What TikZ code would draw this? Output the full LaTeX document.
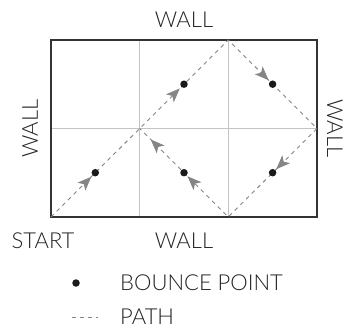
\documentclass[tikz,border=0pt]{standalone}
\usepackage{fontspec}
\setmainfont{Lato Light}
\usetikzlibrary{arrows.meta,decorations.markings}
\definecolor{boxc}{HTML}{333333}
\definecolor{gridc}{HTML}{C4C4C4}
\definecolor{pathc}{HTML}{858585}
\definecolor{dotc}{HTML}{1A1A1A}
\definecolor{textc}{HTML}{222222}
\newcommand{\tipmark}{\arrow[pathc]{Stealth[length=14pt,width=11pt,inset=3.5pt]}}
\begin{document}
\begin{tikzpicture}[x=1pt,y=-1pt,
  lbl/.style={font=\fontsize{22}{22}\selectfont, text=textc, inner sep=0pt, anchor=center},
  leg/.style={font=\fontsize{22}{22}\selectfont, text=textc, inner sep=0pt, anchor=west},
  gridl/.style={draw=gridc, line width=0.9pt},
  wallbox/.style={draw=boxc, line width=1.4pt},
  pathl/.style={draw=pathc, line width=0.9pt, dash pattern=on 4pt off 4pt},
  bdot/.style={circle, fill=dotc, minimum size=7.5pt, inner sep=0pt},
  arrows on path/.style={postaction={decorate}, decoration={markings,
     mark=at position 57pt with {\tipmark},
     mark=at position 182pt with {\tipmark},
     mark=at position 307.5pt with {\tipmark},
     mark=at position 433pt with {\tipmark},
     mark=at position 558pt with {\tipmark},
     mark=at position 610pt with {\tipmark}}}
]
\useasboundingbox (0,0) rectangle (348,331);
% grid
\coordinate (tl) at (51,40);
\coordinate (br) at (317,217);
\draw[gridl] (139.7,40) -- (139.7,217);
\draw[gridl] (228.3,40) -- (228.3,217);
\draw[gridl] (51,128.5) -- (317,128.5);
\draw[wallbox] (tl) rectangle (br);
% path corners
\coordinate (p0) at (51,217);
\coordinate (p1) at (228.3,40);
\coordinate (p2) at (317,128.5);
\coordinate (p3) at (228.3,217);
\coordinate (p4) at (139.7,128.5);
\draw[pathl, arrows on path] (p0) -- (p1) -- (p2) -- (p3) -- (p4);
% bounce dots
\node[bdot] (d1) at (95.3,172.7) {};
\node[bdot] (d2) at (184,84.2) {};
\node[bdot] (d3) at (272.6,84.2) {};
\node[bdot] (d4) at (272.6,172.7) {};
\node[bdot] (d5) at (184,172.7) {};
% labels
\node[lbl] (wt) at (184,20) {WALL};
\node[lbl] (wb) at (184,241) {WALL};
\node[lbl] (st) at (43,241) {START};
\node[lbl, rotate=90] (wl) at (30,128.5) {WALL};
\node[lbl, rotate=-90] (wr) at (335,128.5) {WALL};
% legend
\node[bdot] (ld) at (76,283) {};
\node[leg] (lt1) at (120,283) {BOUNCE POINT};
\coordinate (la) at (72,317);
\coordinate (lb) at (98,317);
\draw[pathl] (la) -- (lb);
\node[leg] (lt2) at (120,317) {PATH};
\end{tikzpicture}
\end{document}
